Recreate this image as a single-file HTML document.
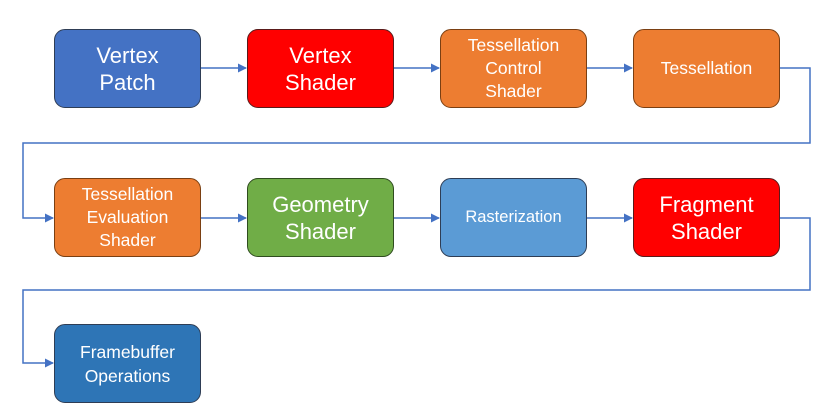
<!DOCTYPE html>
<html><head><style>
body{margin:0;width:814px;height:415px;background:#fff;position:relative;overflow:hidden;font-family:"Liberation Sans","DejaVu Sans",sans-serif}
.b{position:absolute;width:147px;height:79px;border:1.5px solid #2e3d55;border-radius:11px;color:#fff;display:flex;align-items:center;justify-content:center;text-align:center;box-sizing:border-box}
.L{font-size:22px;line-height:27px}
.S{font-size:17.5px;line-height:23px}
.o{background:#ed7d31;border-color:#7a3f12}
.r{background:#ff0000;border-color:#5a1a1a}
svg{position:absolute;left:0;top:0}
</style></head><body>
<svg width="814" height="415">
<defs><marker id="a" markerWidth="9" markerHeight="9" refX="8" refY="4.5" orient="auto" markerUnits="userSpaceOnUse"><path d="M0,0 L9,4.5 L0,9z" fill="#4472c4"/></marker></defs>
<g stroke="#4472c4" stroke-width="1.5" fill="none">
<path d="M201,68 H246" marker-end="url(#a)"/>
<path d="M394,68 H439" marker-end="url(#a)"/>
<path d="M587,68 H632" marker-end="url(#a)"/>
<path d="M780,68 H810 V143 H23 V218 H53" marker-end="url(#a)"/>
<path d="M201,218 H246" marker-end="url(#a)"/>
<path d="M394,218 H439" marker-end="url(#a)"/>
<path d="M587,218 H632" marker-end="url(#a)"/>
<path d="M780,218 H810 V290 H23 V363 H53" marker-end="url(#a)"/>
</g></svg>
<div class="b L" style="left:54px;top:29px;background:#4472c4">Vertex<br>Patch</div>
<div class="b L r" style="left:247px;top:29px">Vertex<br>Shader</div>
<div class="b S o" style="left:440px;top:29px">Tessellation<br>Control<br>Shader</div>
<div class="b o" style="left:633px;top:29px;font-size:17.5px">Tessellation</div>
<div class="b S o" style="left:54px;top:178px">Tessellation<br>Evaluation<br>Shader</div>
<div class="b L" style="left:247px;top:178px;background:#70ad47;border-color:#2f4d1f">Geometry<br>Shader</div>
<div class="b" style="left:440px;top:178px;background:#5b9bd5;font-size:16.5px">Rasterization</div>
<div class="b L r" style="left:633px;top:178px">Fragment<br>Shader</div>
<div class="b S" style="left:54px;top:324px;background:#2e75b6;line-height:24px">Framebuffer<br>Operations</div>
</body></html>
